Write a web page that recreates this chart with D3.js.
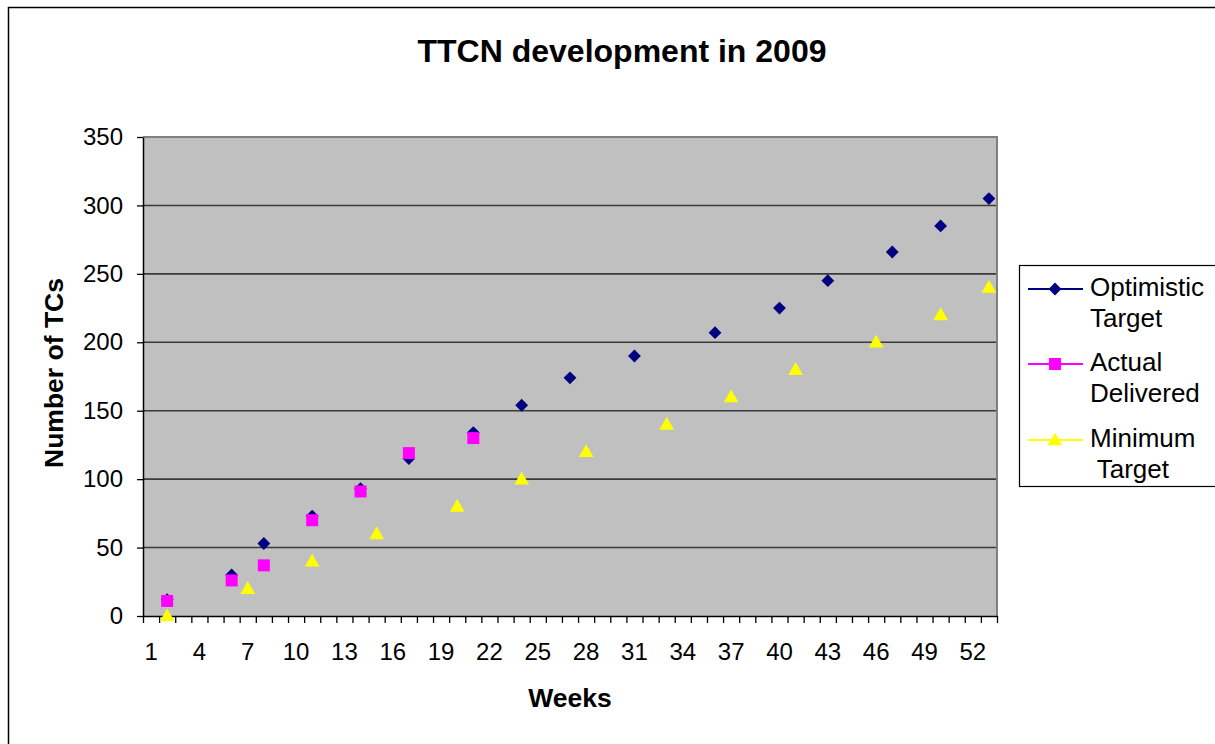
<!DOCTYPE html>
<html>
<head>
<meta charset="utf-8">
<script src="https://cdn.jsdelivr.net/npm/d3@7"></script>
<style>
  html, body { margin: 0; padding: 0; background: #fff; }
  svg { display: block; font-family: "Liberation Sans", Arial, sans-serif; }
</style>
</head>
<body>
<svg id="chart" width="1215" height="744"></svg>
<script>
// Weekly test-case counts for the TTCN work in 2009
const yTickValues = [0, 50, 100, 150, 200, 250, 300, 350];
const xTickLabels = [1, 4, 7, 10, 13, 16, 19, 22, 25, 28, 31, 34, 37, 40, 43, 46, 49, 52];
const weekCount = 53;

const optimisticWeeks  = [2, 6, 8, 11, 14, 17, 21, 24, 27, 31, 36, 40, 43, 47, 50, 53];
const optimisticValues = [12, 30, 53, 73, 93, 115, 134, 154, 174, 190, 207, 225, 245, 266, 285, 305];

const actualWeeks  = [2, 6, 8, 11, 14, 17, 21];
const actualValues = [11, 26, 37, 70, 91, 119, 130];

const minimumWeeks  = [2, 7, 11, 15, 20, 24, 28, 33, 37, 41, 46, 50, 53];
const minimumValues = [0, 20, 40, 60, 80, 100, 120, 140, 160, 180, 200, 220, 240];

const seriesNames = ["Optimistic\nTarget", "Actual\nDelivered", "Minimum\n Target"];
const seriesColors = ["#000080", "#FF00FF", "#FFFF00"];

const svg = d3.select("#chart");

const plot = { left: 143, right: 997, top: 137, bottom: 616 };

const weeks = d3.range(1, weekCount + 1);
const x = d3.scaleBand().domain(weeks).range([plot.left, plot.right]).padding(0);
const xEdge = d3.scaleLinear().domain([0, weekCount]).range([plot.left, plot.right]);
const y = d3.scaleLinear().domain([0, 350]).range([plot.bottom, plot.top]);

// outer chart frame
svg.append("rect")
  .attr("x", 8.5).attr("y", 7.5)
  .attr("width", 1230).attr("height", 800)
  .attr("fill", "#fff").attr("stroke", "#000").attr("stroke-width", 1.5);

// plot background
svg.append("rect")
  .attr("x", plot.left).attr("y", plot.top)
  .attr("width", plot.right - plot.left).attr("height", plot.bottom - plot.top)
  .attr("fill", "#C0C0C0");

// horizontal gridlines
svg.append("g")
  .selectAll("line")
  .data(yTickValues.filter(v => v > 0 && v < 350))
  .join("line")
  .attr("x1", plot.left).attr("x2", plot.right)
  .attr("y1", d => y(d)).attr("y2", d => y(d))
  .attr("stroke", "#3a3a3a").attr("stroke-width", 1.6);

// plot-area border (top & right)
svg.append("path")
  .attr("d", `M${plot.left},${plot.top}H${plot.right}V${plot.bottom}`)
  .attr("fill", "none").attr("stroke", "#808080").attr("stroke-width", 2);

// y axis
const yAxis = svg.append("g")
  .attr("transform", `translate(${plot.left},0)`)
  .call(d3.axisLeft(y).tickValues(yTickValues).tickSize(6).tickSizeOuter(0).tickPadding(14));
yAxis.select(".domain").attr("stroke", "#000").attr("stroke-width", 1.5);
yAxis.selectAll(".tick line").attr("stroke", "#000").attr("stroke-width", 1.3);
yAxis.selectAll(".tick text")
  .attr("font-size", 24).attr("fill", "#000")
  .attr("font-family", "Liberation Sans, Arial, sans-serif");

// x axis: tick marks between categories
const xTicks = svg.append("g")
  .attr("transform", `translate(0,${plot.bottom})`)
  .call(d3.axisBottom(xEdge).tickValues(d3.range(0, weekCount + 1)).tickSize(7).tickSizeOuter(0).tickFormat(""));
xTicks.select(".domain").attr("stroke", "#000").attr("stroke-width", 1.5);
xTicks.selectAll(".tick line").attr("stroke", "#000").attr("stroke-width", 1.3);

// x axis: category labels
const xLabels = svg.append("g")
  .attr("transform", `translate(0,${plot.bottom})`)
  .call(d3.axisBottom(x).tickValues(xTickLabels).tickSize(0).tickPadding(27));
xLabels.select(".domain").remove();
xLabels.selectAll(".tick text")
  .attr("font-size", 24).attr("fill", "#000")
  .attr("font-family", "Liberation Sans, Arial, sans-serif");

// markers
const diamond = d3.symbol().type(d3.symbolDiamond2).size(105);
const square = d3.symbol().type(d3.symbolSquare).size(144);
const triangle = d3.symbol().type(d3.symbolTriangle).size(95);

function drawSeries(weeksArr, values, shape, color, dy) {
  svg.append("g")
    .selectAll("path")
    .data(weeksArr.map((w, i) => ({ w, v: values[i] })))
    .join("path")
    .attr("transform", d => `translate(${x(d.w) + x.bandwidth() / 2},${y(d.v) + dy})`)
    .attr("d", shape)
    .attr("fill", color);
}
drawSeries(optimisticWeeks, optimisticValues, diamond, seriesColors[0], 0);
drawSeries(actualWeeks, actualValues, square, seriesColors[1], 0);
drawSeries(minimumWeeks, minimumValues, triangle, seriesColors[2], 1);

// chart title
svg.append("text")
  .attr("x", 622).attr("y", 62)
  .attr("text-anchor", "middle")
  .attr("font-size", 32).attr("font-weight", "bold")
  .text("TTCN development in 2009");

// axis titles
svg.append("text")
  .attr("x", 570).attr("y", 707)
  .attr("text-anchor", "middle")
  .attr("font-size", 26.5).attr("font-weight", "bold")
  .text("Weeks");

svg.append("text")
  .attr("transform", "translate(63,373) rotate(-90)")
  .attr("text-anchor", "middle")
  .attr("font-size", 26.5).attr("font-weight", "bold")
  .text("Number of TCs");

// legend
const legend = svg.append("g");
legend.append("rect")
  .attr("x", 1019.5).attr("y", 265.5)
  .attr("width", 220).attr("height", 221)
  .attr("fill", "#fff").attr("stroke", "#000").attr("stroke-width", 1.2);

const legendShapes = [diamond, square, triangle];
const legendRowY = [289, 364, 440];
seriesNames.forEach((name, i) => {
  const g = legend.append("g");
  g.append("line")
    .attr("x1", 1028).attr("x2", 1083)
    .attr("y1", legendRowY[i]).attr("y2", legendRowY[i])
    .attr("stroke", seriesColors[i]).attr("stroke-width", 2);
  g.append("path")
    .attr("transform", `translate(1055,${legendRowY[i] + (i === 2 ? 1 : 0)})`)
    .attr("d", legendShapes[i])
    .attr("fill", seriesColors[i]);
  const t = g.append("text")
    .attr("x", 1090).attr("y", legendRowY[i] + 7)
    .attr("font-size", 26).attr("fill", "#000")
    .attr("xml:space", "preserve");
  name.split("\n").forEach((line, j) => {
    t.append("tspan")
      .attr("x", 1090)
      .attr("dy", j === 0 ? 0 : 31)
      .text(line);
  });
});
</script>
</body>
</html>
